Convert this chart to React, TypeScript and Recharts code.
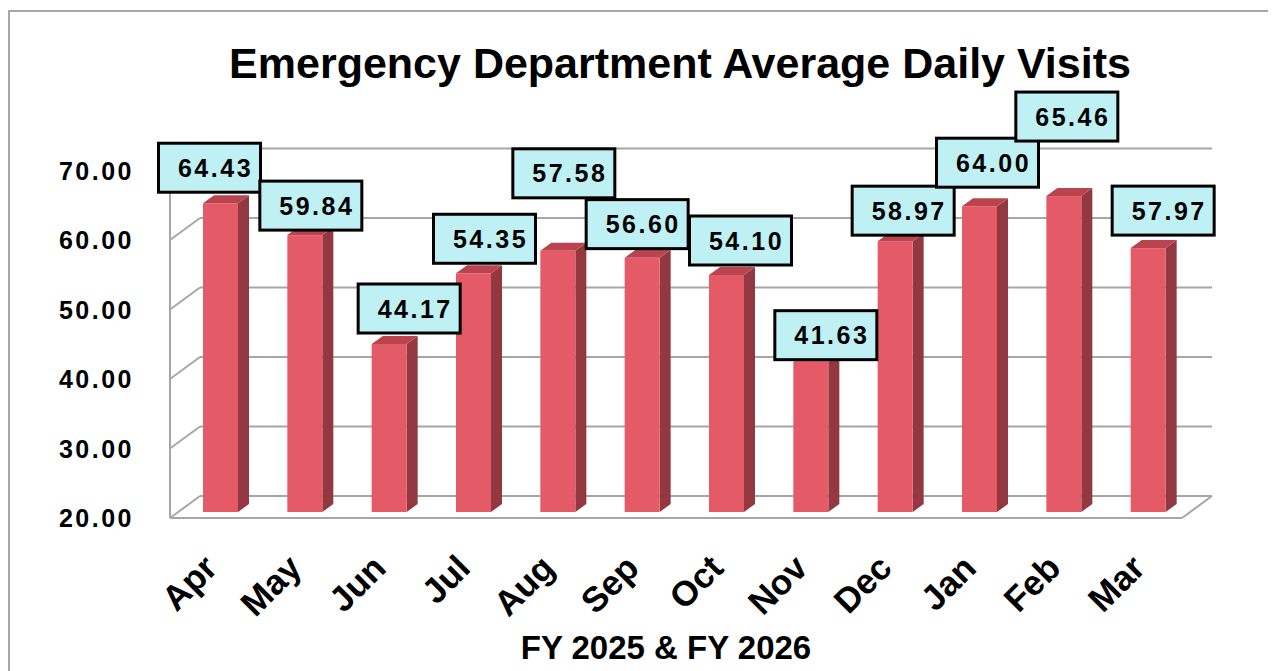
import { BarChart, Bar, XAxis, YAxis, CartesianGrid, LabelList } from "recharts";

const months = ["Apr", "May", "Jun", "Jul", "Aug", "Sep", "Oct", "Nov", "Dec", "Jan", "Feb", "Mar"];
const visits = [64.43, 59.84, 44.17, 54.35, 57.58, 56.6, 54.1, 41.63, 58.97, 64.0, 65.46, 57.97];
const yTicks = [20, 30, 40, 50, 60, 70];

// hand-placed label boxes, like the original (shift from bar centre, gap above bar top)
const labelShiftX = [-11, 6, 20, 11, 6, -5, 14, 15, 8, 8, 3, 15];
const labelGap = [11, 5, 11, 10, 53, 9, 10, 2, 6, 19, 55, 13];

const data = months.map((month, i) => ({ month, visits: visits[i] }));

const W = 1260;
const H = 676;
const XAXIS_H = 30;
const YAXIS_W = 60;
const margin = { top: 152.5, right: 80, bottom: 146, left: 108 };
const PLOT_LEFT = margin.left + YAXIS_W;
const PLOT_TOP = margin.top;
const PLOT_BOTTOM = H - margin.bottom - XAXIS_H;

// fake 3D: front edge and back wall offsets
const FRONT = { dx: -8, dy: 6 };
const BACK = { dx: 22, dy: -16 };
const DEPTH = { dx: 11, dy: 8 };

const FONT = '"Liberation Sans", Arial, sans-serif';
const GRID = "#a6a6a6";

function WallLine(props: any) {
  const { x1, x2, y1 } = props;
  const floor = Math.abs(y1 - PLOT_BOTTOM) < 1;
  const ln = { stroke: GRID, strokeWidth: 2, fill: "none" };
  return (
    <g key={props.key}>
      <line {...ln} x1={x1 + BACK.dx} y1={y1 + BACK.dy} x2={x2 + BACK.dx} y2={y1 + BACK.dy} />
      <line {...ln} x1={x1 + FRONT.dx} y1={y1 + FRONT.dy} x2={x1 + BACK.dx} y2={y1 + BACK.dy} />
      {floor && (
        <>
          <line {...ln} x1={x1 + FRONT.dx} y1={y1 + FRONT.dy} x2={x2 + FRONT.dx} y2={y1 + FRONT.dy} />
          <line {...ln} x1={x2 + FRONT.dx} y1={y1 + FRONT.dy} x2={x2 + BACK.dx} y2={y1 + BACK.dy} />
          <line {...ln} x1={x1 + FRONT.dx} y1={y1 + FRONT.dy} x2={x1 + FRONT.dx} y2={PLOT_TOP + FRONT.dy} />
        </>
      )}
    </g>
  );
}

function Bar3D(props: any) {
  const { x, y, width: w, height: h } = props;
  const { dx, dy } = DEPTH;
  return (
    <g>
      <polygon
        points={`${x + w},${y} ${x + w + dx},${y - dy} ${x + w + dx},${y + h - dy} ${x + w},${y + h}`}
        fill="#933840"
      />
      <polygon points={`${x},${y} ${x + dx},${y - dy} ${x + w + dx},${y - dy} ${x + w},${y}`} fill="#b9444f" />
      <rect x={x} y={y} width={w} height={h} fill="#e45a67" />
    </g>
  );
}

function ValueBox(props: any) {
  const { x, y, width, value, index } = props;
  const bw = 102;
  const bh = 49;
  const cx = x + width / 2 + labelShiftX[index];
  const bottom = y - labelGap[index];
  return (
    <g>
      <rect x={cx - bw / 2} y={bottom - bh} width={bw} height={bh} fill="#bff0f3" stroke="#000" strokeWidth={3} />
      <text
        x={cx + 6}
        y={bottom - bh / 2 + 9}
        textAnchor="middle"
        fontFamily={FONT}
        fontWeight="bold"
        fontSize={25}
        letterSpacing={2.5}
        fill="#000"
      >
        {Number(value).toFixed(2)}
      </text>
    </g>
  );
}

function ValueTick(props: any) {
  const { y, payload } = props;
  return (
    <text
      x={PLOT_LEFT - 44}
      y={y + FRONT.dy + 9}
      textAnchor="end"
      fontFamily={FONT}
      fontWeight="bold"
      fontSize={25}
      letterSpacing={2.5}
      fill="#000"
    >
      {Number(payload.value).toFixed(2)}
    </text>
  );
}

function MonthTick(props: any) {
  const { x, payload } = props;
  const tx = x - 1;
  const ty = PLOT_BOTTOM + 58;
  return (
    <text
      x={tx}
      y={ty}
      transform={`rotate(-45 ${tx} ${ty})`}
      textAnchor="end"
      fontFamily={FONT}
      fontWeight="bold"
      fontSize={35}
      fill="#000"
    >
      {payload.value}
    </text>
  );
}

export default function App() {
  return (
    <div
      style={{
        position: "relative",
        top: 2,
        width: W + 4,
        height: H + 4,
        boxSizing: "border-box",
        border: `2px solid ${GRID}`,
        background: "#fff",
      }}
    >
      <BarChart width={W} height={H} data={data} margin={margin} barSize={35}>
        <CartesianGrid vertical={false} horizontal={(p: any) => <WallLine {...p} />} />
        <XAxis
          dataKey="month"
          height={XAXIS_H}
          axisLine={false}
          tickLine={false}
          interval={0}
          tick={<MonthTick />}
        />
        <YAxis
          domain={[20, 70]}
          ticks={yTicks}
          width={YAXIS_W}
          axisLine={false}
          tickLine={false}
          tick={<ValueTick />}
          interval={0}
          allowDataOverflow
        />
        <Bar dataKey="visits" shape={<Bar3D />} isAnimationActive={false}>
          <LabelList dataKey="visits" content={<ValueBox />} />
        </Bar>
      </BarChart>
      <svg width={W} height={H} style={{ position: "absolute", left: 0, top: 0, pointerEvents: "none" }}>
        <text x={670} y={66} textAnchor="middle" fontFamily={FONT} fontWeight="bold" fontSize={43} fill="#000">
          Emergency Department Average Daily Visits
        </text>
        <text x={656} y={647} textAnchor="middle" fontFamily={FONT} fontWeight="bold" fontSize={33} fill="#000">
          FY 2025 &amp; FY 2026
        </text>
      </svg>
    </div>
  );
}
